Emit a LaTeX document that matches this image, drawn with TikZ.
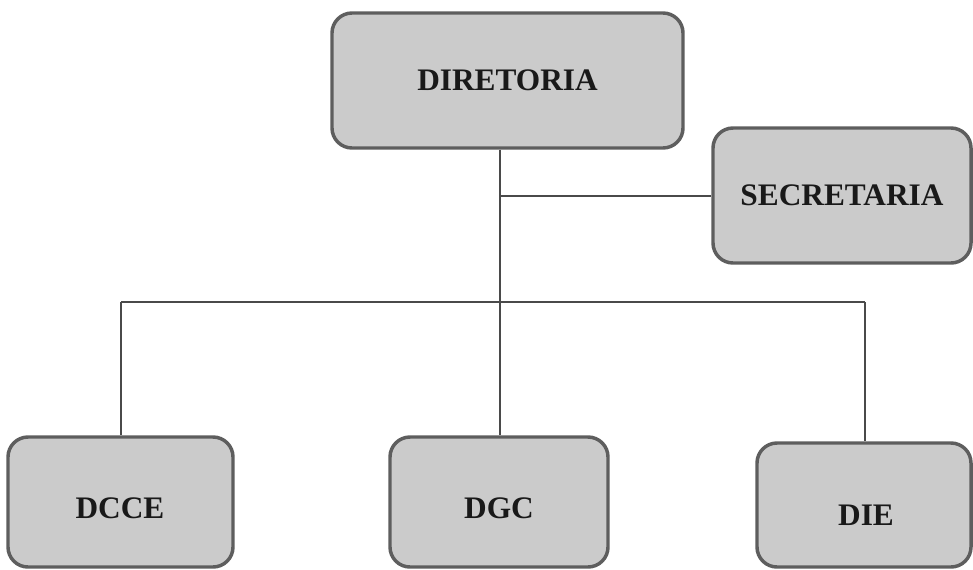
\documentclass[tikz,border=0pt]{standalone}
\usepackage{fontspec}
\setmainfont{Liberation Serif}
\definecolor{boxfill}{HTML}{CBCBCB}
\definecolor{boxline}{HTML}{5E5E5E}
\definecolor{wire}{HTML}{4A4A4A}
\begin{document}
\begin{tikzpicture}[x=0.75pt,y=-0.75pt,
  orgbox/.style={draw=boxline,fill=boxfill,line width=2.6pt,rounded corners=15pt,
    inner sep=0pt,font=\fontsize{23.5pt}{26pt}\selectfont\bfseries,text=black!90},
  wireline/.style={draw=wire,line width=0.8pt}]
\useasboundingbox (0,0) rectangle (973,569);
\node[orgbox,minimum width=351*0.75pt,minimum height=135*0.75pt] (dir) at (507.5,80.5) {DIRETORIA};
\node[orgbox,minimum width=258*0.75pt,minimum height=135*0.75pt] (sec) at (842,195.5) {SECRETARIA};
\node[orgbox,minimum width=225*0.75pt,minimum height=130*0.75pt] (dcce) at (120.5,502) {};
\node[orgbox,minimum width=218*0.75pt,minimum height=130*0.75pt] (dgc) at (499,502) {};
\node[orgbox,minimum width=214*0.75pt,minimum height=124*0.75pt] (die) at (864,505) {};
\node[font=\fontsize{23.5pt}{26pt}\selectfont\bfseries,text=black!90] (tdcce) at (120,508) {DCCE};
\node[font=\fontsize{23.5pt}{26pt}\selectfont\bfseries,text=black!90] (tdgc) at (499,508) {DGC};
\node[font=\fontsize{23.5pt}{26pt}\selectfont\bfseries,text=black!90] (tdie) at (866,515) {DIE};
\coordinate (j) at (500,302);
\coordinate (s) at (500,196);
\coordinate (l) at (121,302);
\coordinate (r) at (865,302);
\draw[wireline] (dir.south -| j) -- (j);
\draw[wireline] (s) -- (sec.west |- s);
\draw[wireline] (l) -- (r);
\draw[wireline] (l) -- (dcce.north -| l);
\draw[wireline] (j) -- (dgc.north -| j);
\draw[wireline] (r) -- (die.north -| r);
\end{tikzpicture}
\end{document}
